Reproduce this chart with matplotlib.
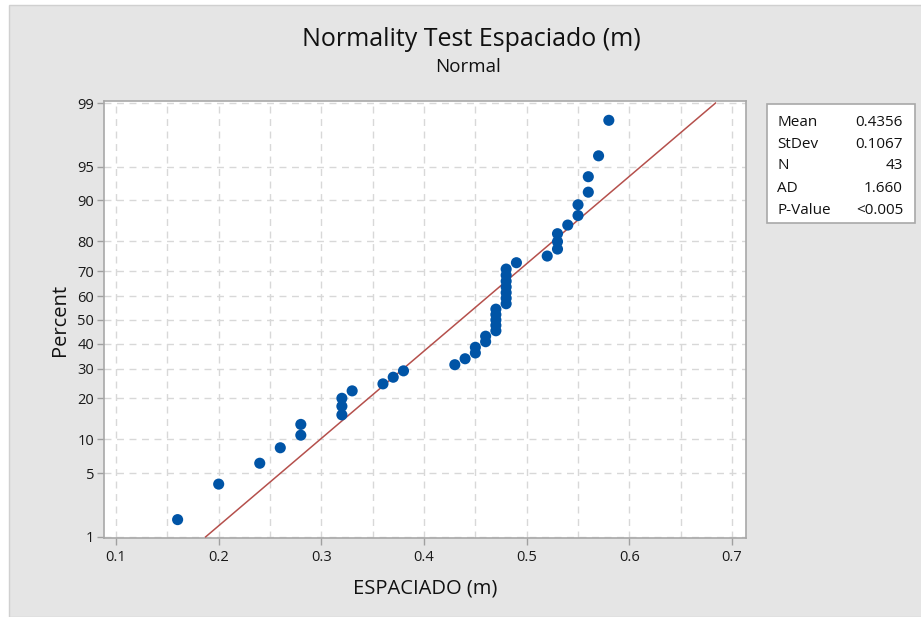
import numpy as np
import matplotlib
matplotlib.use("Agg")
import matplotlib.pyplot as plt
from matplotlib.patches import Rectangle
from statistics import NormalDist

# Datos: espaciado medido (m), 43 observaciones
espaciado = [0.16, 0.20, 0.24, 0.26, 0.28, 0.28,
             0.32, 0.32, 0.32, 0.33, 0.36, 0.37, 0.38,
             0.43, 0.44, 0.45, 0.45, 0.46, 0.46,
             0.47, 0.47, 0.47, 0.47, 0.47,
             0.48, 0.48, 0.48, 0.48, 0.48, 0.48, 0.48,
             0.49, 0.52, 0.53, 0.53, 0.53, 0.54,
             0.55, 0.55, 0.56, 0.56, 0.57, 0.58]
pct_ticks = [1, 5, 10, 20, 30, 40, 50, 60, 70, 80, 90, 95, 99]
x_ticks = [0.1, 0.2, 0.3, 0.4, 0.5, 0.6, 0.7]
stat_names = ["Mean", "StDev", "N", "AD", "P-Value"]
ad_text = "1.660"
p_text = "<0.005"

plt.rcParams['font.family'] = ['Open Sans', 'DejaVu Sans']

nd = NormalDist()
x = np.sort(np.array(espaciado))
n = len(x)
media = x.mean()
sd = x.std(ddof=1)
# rangos de mediana (Minitab)
p = (np.arange(1, n + 1) - 0.3) / (n + 0.4)
z = np.array([nd.inv_cdf(v) for v in p])

fig = plt.figure(figsize=(9.21, 6.17), dpi=100)
fig.patch.set_facecolor('white')
fondo = Rectangle((9 / 921, 0), 1, 1 - 5 / 617, transform=fig.transFigure,
                  facecolor='#E5E5E5', edgecolor='#D0D0D0', lw=1, zorder=-10)
fig.add_artist(fondo)

ax = fig.add_axes([104 / 921, 1 - 538 / 617, 642 / 921, 437 / 617])
ax.set_facecolor('white')
ax.set_zorder(1)

z_lo = nd.inv_cdf(0.01)
z_hi = nd.inv_cdf(0.99)

# linea ajustada
zl = np.array([z_lo, z_hi])
ax.plot(media + zl * sd, zl, color='#B5504C', lw=1.1, zorder=3)
ax.scatter(x, z, s=64, color='#0054A6', zorder=4, edgecolors='none')

ax.set_xlim(0.0883, 0.7136)
ax.set_ylim(z_lo - 0.012, z_hi + 0.022)

yt = [nd.inv_cdf(v / 100) for v in pct_ticks]
ax.set_yticks(yt)
ax.set_yticklabels([str(v) for v in pct_ticks])
ax.set_xticks(x_ticks)
ax.set_xticklabels([f"{v:g}" for v in x_ticks])

for xv in np.arange(0.1, 0.7001, 0.05):
    ax.axvline(xv, color='#D8D8D8', lw=1, ls=(0, (5, 4)), zorder=1)
for yv in yt:
    ax.axhline(yv, color='#D8D8D8', lw=1, ls=(0, (5, 4)), zorder=1)

for s in ax.spines.values():
    s.set_color('#A8A8A8')
    s.set_linewidth(1.2)
ax.tick_params(axis='both', colors='#A0A0A0', labelcolor='#1A1A1A', labelsize=10.5,
               length=5, width=1)
ax.tick_params(axis='y', pad=2)

ax.set_xlabel("ESPACIADO (m)", fontsize=14.5, color='#111111', labelpad=10)
ax.set_ylabel("Percent", fontsize=14.5, color='#111111', labelpad=5)

fig.text(471 / 921, 1 - 40 / 617, "Normality Test Espaciado (m)", ha='center', va='center',
         fontsize=18, color='#111111')
fig.text(468 / 921, 1 - 67 / 617, "Normal", ha='center', va='center',
         fontsize=13.5, color='#111111')

# cuadro de estadisticos
caja = Rectangle((767 / 921, 1 - 223 / 617), 148 / 921, 119 / 617,
                 transform=fig.transFigure, facecolor='white',
                 edgecolor='#A8A8A8', lw=1.2, zorder=2)
fig.add_artist(caja)
valores = [f"{media:.4f}", f"{sd:.4f}", str(n), ad_text, p_text]
for i, (nm, vl) in enumerate(zip(stat_names, valores)):
    yy = 1 - (122 + i * 22) / 617
    fig.text(777 / 921, yy, nm, ha='left', va='center', fontsize=11, color='#111111', zorder=3)
    fig.text(903 / 921, yy, vl, ha='right', va='center', fontsize=11, color='#111111', zorder=3)

fig.savefig("out.png", dpi=100)
